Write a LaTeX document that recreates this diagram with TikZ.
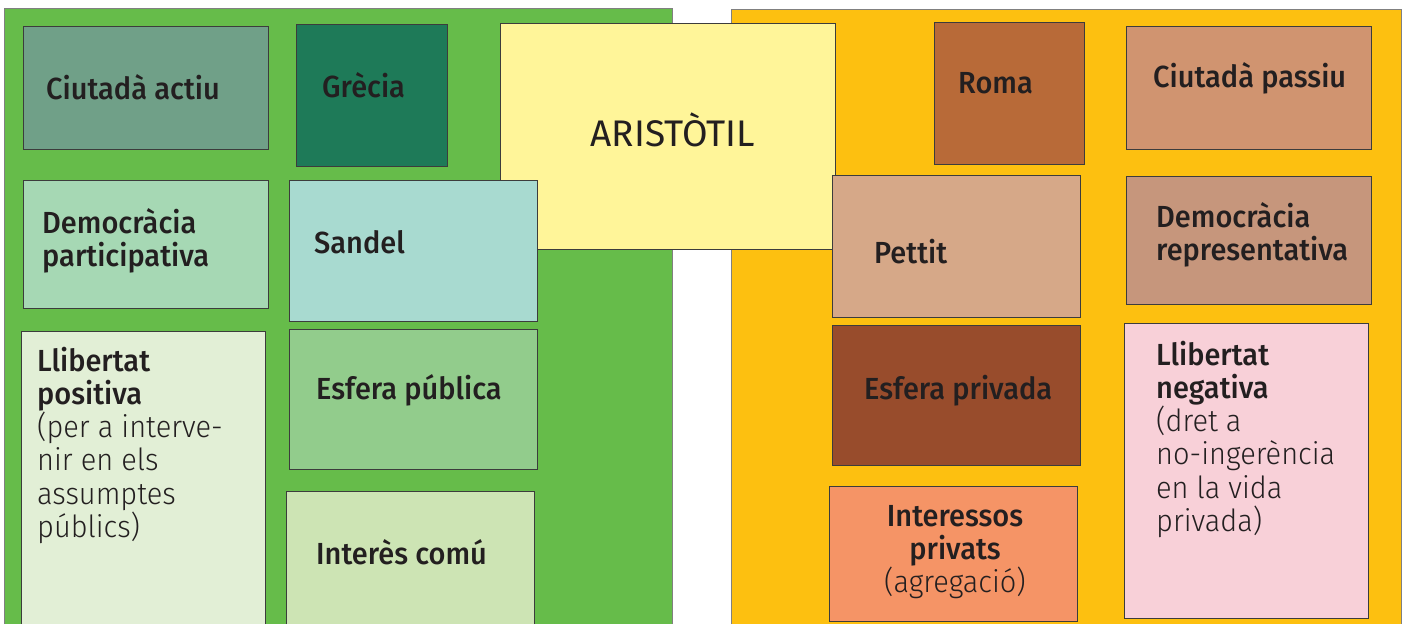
\documentclass[tikz,border=0pt]{standalone}
\usepackage{fontspec}
\setmainfont{Fira Sans Medium}[FakeStretch=0.95]
\newfontfamily\lightfont{Fira Sans Light}[FakeStretch=0.95]
\newfontfamily\capsfont{Fira Sans}
\usetikzlibrary{positioning}

\definecolor{inkgray}{HTML}{231F20}
\definecolor{edgegray}{HTML}{3C3C3C}
\definecolor{greenpanel}{HTML}{66BC4A}
\definecolor{orangepanel}{HTML}{FDC010}
\definecolor{actiucol}{HTML}{70A088}
\definecolor{greciacol}{HTML}{1E7A58}
\definecolor{aristocol}{HTML}{FFF599}
\definecolor{partcol}{HTML}{A6D8B4}
\definecolor{sandelcol}{HTML}{A8DAD0}
\definecolor{positivacol}{HTML}{E2EFD6}
\definecolor{publicacol}{HTML}{92CC8C}
\definecolor{comucol}{HTML}{CDE4B4}
\definecolor{romacol}{HTML}{B86A38}
\definecolor{passiucol}{HTML}{D09470}
\definecolor{pettitcol}{HTML}{D6A888}
\definecolor{reprcol}{HTML}{C6967C}
\definecolor{privadacol}{HTML}{984C2C}
\definecolor{privatscol}{HTML}{F59466}
\definecolor{negativacol}{HTML}{F8D0D8}

\newcommand{\lblfont}{\fontsize{30.5}{33.3}\selectfont}
\newcommand{\thinfont}{\lightfont\fontsize{30.5}{33.3}\selectfont}

\tikzset{
    panel/.style={draw=gray, line width=0.8pt, anchor=north west, inner sep=0pt},
    cell/.style={draw=edgegray, line width=1.2pt, anchor=north west, inner sep=0pt},
    lbl/.style={anchor=base west, inner sep=0pt, text=inkgray, font=\lblfont}
}

\begin{document}
\begin{tikzpicture}[x=1pt, y=-1pt]
    \useasboundingbox (0,0) rectangle (1409,624);
    \clip (0,0) rectangle (1409,624);

    % Two halves
    \node[panel, fill=greenpanel, minimum width=668pt, minimum height=640pt] (greenside) at (4,8) {};
    \node[panel, fill=orangepanel, minimum width=670pt, minimum height=640pt] (orangeside) at (731,9) {};

    % Green half
    \node[cell, fill=actiucol, minimum width=245pt, minimum height=123pt] (actiu) at (23,26) {};
    \node[cell, fill=greciacol, minimum width=151pt, minimum height=142pt] (grecia) at (296,24) {};
    \node[cell, fill=partcol, minimum width=245pt, minimum height=128pt] (part) at (23,180) {};
    \node[cell, fill=positivacol, minimum width=244pt, minimum height=320pt] (positiva) at (21,331) {};
    \node[cell, fill=publicacol, minimum width=248pt, minimum height=140pt] (publica) at (289,329) {};
    \node[cell, fill=comucol, minimum width=248pt, minimum height=160pt] (comu) at (286,491) {};

    % Orange half
    \node[cell, fill=romacol, minimum width=150pt, minimum height=142pt] (roma) at (934,22) {};
    \node[cell, fill=passiucol, minimum width=245pt, minimum height=123pt] (passiu) at (1126,26) {};
    \node[cell, fill=reprcol, minimum width=245pt, minimum height=128pt] (repr) at (1126,176) {};
    \node[cell, fill=privadacol, minimum width=248pt, minimum height=140pt] (privada) at (832,325) {};
    \node[cell, fill=privatscol, minimum width=248pt, minimum height=135pt] (privats) at (829,486) {};
    \node[cell, fill=negativacol, minimum width=244pt, minimum height=295pt] (negativa) at (1124,323) {};

    % Middle, with the two boxes that lie over it
    \node[cell, fill=aristocol, minimum width=335pt, minimum height=226pt] (aristo) at (500,23) {};
    \node[cell, fill=sandelcol, minimum width=248pt, minimum height=141pt] (sandel) at (289,180) {};
    \node[cell, fill=pettitcol, minimum width=248pt, minimum height=142pt] (pettit) at (832,175) {};

    % Labels
    \node[lbl] (actiutxt) at (46,99) {Ciutadà actiu};
    \node[lbl] (greciatxt) at (322,97) {Grècia};
    \node[lbl, anchor=base, font=\capsfont\fontsize{37}{40}\selectfont] (aristotxt) at (673,146) {ARISTÒTIL};
    \node[lbl] (partxt) at (42,233) {\parbox[t]{220pt}{Democràcia\\participativa}};
    \node[lbl] (sandeltxt) at (314,253) {Sandel};
    \node[lbl] (positivatxt) at (37,371)
        {\parbox[t]{220pt}{Llibertat\\positiva\\{\thinfont(per a interve-\\nir en els\\assumptes\\públics)}}};
    \node[lbl] (publicatxt) at (316,399) {Esfera pública};
    \node[lbl] (comutxt) at (316,564) {Interès comú};

    \node[lbl] (romatxt) at (958,93) {Roma};
    \node[lbl] (passiutxt) at (1153,87) {Ciutadà passiu};
    \node[lbl] (pettittxt) at (874,263) {Pettit};
    \node[lbl] (reprtxt) at (1156,227) {\parbox[t]{220pt}{Democràcia\\representativa}};
    \node[lbl] (privadatxt) at (864,399) {Esfera privada};
    \node[lbl, anchor=base] (privatstxt) at (955,526)
        {\parbox[t]{220pt}{\centering Interessos\\privats\\{\thinfont(agregació)}}};
    \node[lbl] (negativatxt) at (1156,365)
        {\parbox[t]{220pt}{Llibertat\\negativa\\{\thinfont(dret a\\no-ingerència\\en la vida\\privada)}}};
\end{tikzpicture}
\end{document}
